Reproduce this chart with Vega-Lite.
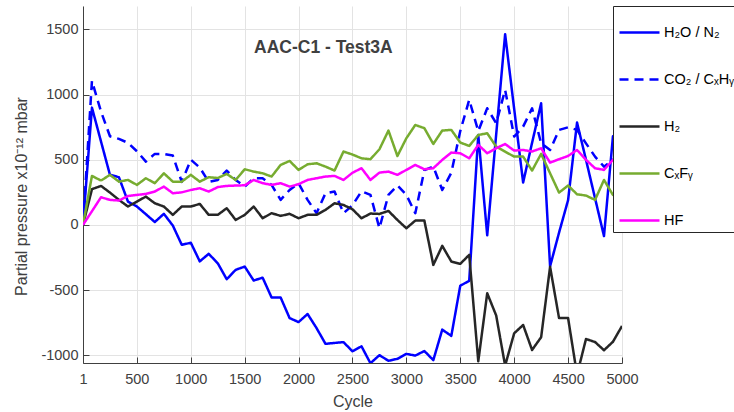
{
  "$schema": "https://vega.github.io/schema/vega-lite/v6.json",
  "autosize": "none",
  "width": 539,
  "height": 357,
  "padding": {"left": 83, "top": 6, "right": 112, "bottom": 49},
  "background": "white",
  "config": {
    "view": {"stroke": null},
    "font": "Liberation Sans",
    "axis": {
      "domainColor": "#404040",
      "tickColor": "#404040",
      "gridColor": "#e3e3e3",
      "labelColor": "#404040",
      "titleColor": "#404040",
      "labelFontSize": 14.5,
      "titleFontSize": 16,
      "titleFontWeight": "normal",
      "labelExpr": "'' + datum.value"
    }
  },
  "title": {
    "text": "AAC-C1 - Test3A",
    "anchor": "start",
    "frame": "group",
    "offset": 0,
    "dx": 171,
    "dy": 65,
    "baseline": "alphabetic",
    "fontSize": 17.5,
    "fontWeight": "bold",
    "color": "#404040"
  },
  "data": {
    "values": [
      {"cycle": 1, "H2O": 0, "CO2": 0, "H2": 0, "CxFy": 0, "HF": 0},
      {"cycle": 84, "H2O": 900, "CO2": 1105, "H2": 274, "CxFy": 376, "HF": 105},
      {"cycle": 168, "H2O": 640, "CO2": 870, "H2": 299, "CxFy": 340, "HF": 212},
      {"cycle": 251, "H2O": 384, "CO2": 680, "H2": 248, "CxFy": 384, "HF": 192},
      {"cycle": 334, "H2O": 366, "CO2": 660, "H2": 192, "CxFy": 332, "HF": 187},
      {"cycle": 418, "H2O": 179, "CO2": 630, "H2": 141, "CxFy": 345, "HF": 222},
      {"cycle": 501, "H2O": 141, "CO2": 565, "H2": 179, "CxFy": 307, "HF": 230},
      {"cycle": 584, "H2O": 82, "CO2": 486, "H2": 217, "CxFy": 358, "HF": 238},
      {"cycle": 667, "H2O": 22, "CO2": 545, "H2": 166, "CxFy": 320, "HF": 256},
      {"cycle": 751, "H2O": 85, "CO2": 545, "H2": 141, "CxFy": 396, "HF": 294},
      {"cycle": 834, "H2O": -5, "CO2": 532, "H2": 77, "CxFy": 332, "HF": 243},
      {"cycle": 917, "H2O": -153, "CO2": 330, "H2": 141, "CxFy": 332, "HF": 250},
      {"cycle": 1001, "H2O": -137, "CO2": 500, "H2": 141, "CxFy": 384, "HF": 268},
      {"cycle": 1084, "H2O": -280, "CO2": 440, "H2": 161, "CxFy": 332, "HF": 281},
      {"cycle": 1167, "H2O": -222, "CO2": 330, "H2": 77, "CxFy": 366, "HF": 256},
      {"cycle": 1251, "H2O": -295, "CO2": 345, "H2": 77, "CxFy": 360, "HF": 290},
      {"cycle": 1334, "H2O": -417, "CO2": 417, "H2": 128, "CxFy": 391, "HF": 299},
      {"cycle": 1417, "H2O": -345, "CO2": 345, "H2": 38, "CxFy": 345, "HF": 302},
      {"cycle": 1501, "H2O": -320, "CO2": 294, "H2": 77, "CxFy": 427, "HF": 304},
      {"cycle": 1584, "H2O": -427, "CO2": 358, "H2": 141, "CxFy": 409, "HF": 345},
      {"cycle": 1667, "H2O": -405, "CO2": 358, "H2": 51, "CxFy": 396, "HF": 320},
      {"cycle": 1750, "H2O": -557, "CO2": 307, "H2": 90, "CxFy": 371, "HF": 307},
      {"cycle": 1834, "H2O": -557, "CO2": 192, "H2": 69, "CxFy": 460, "HF": 320},
      {"cycle": 1917, "H2O": -715, "CO2": 268, "H2": 85, "CxFy": 491, "HF": 294},
      {"cycle": 2000, "H2O": -746, "CO2": 320, "H2": 51, "CxFy": 422, "HF": 312},
      {"cycle": 2084, "H2O": -684, "CO2": 192, "H2": 77, "CxFy": 465, "HF": 345},
      {"cycle": 2167, "H2O": -792, "CO2": 90, "H2": 77, "CxFy": 473, "HF": 358},
      {"cycle": 2250, "H2O": -913, "CO2": 243, "H2": 115, "CxFy": 447, "HF": 371},
      {"cycle": 2334, "H2O": -906, "CO2": 256, "H2": 166, "CxFy": 417, "HF": 376},
      {"cycle": 2417, "H2O": -900, "CO2": 90, "H2": 153, "CxFy": 563, "HF": 345},
      {"cycle": 2500, "H2O": -970, "CO2": 150, "H2": 120, "CxFy": 540, "HF": 400},
      {"cycle": 2584, "H2O": -932, "CO2": 258, "H2": 51, "CxFy": 511, "HF": 435},
      {"cycle": 2667, "H2O": -1062, "CO2": 230, "H2": 87, "CxFy": 504, "HF": 345},
      {"cycle": 2750, "H2O": -1000, "CO2": -25, "H2": 84, "CxFy": 580, "HF": 401},
      {"cycle": 2834, "H2O": -1043, "CO2": 230, "H2": 107, "CxFy": 724, "HF": 409},
      {"cycle": 2917, "H2O": -1028, "CO2": 303, "H2": 38, "CxFy": 529, "HF": 384},
      {"cycle": 3000, "H2O": -990, "CO2": 230, "H2": -26, "CxFy": 665, "HF": 422},
      {"cycle": 3083, "H2O": -1003, "CO2": 90, "H2": 33, "CxFy": 767, "HF": 460},
      {"cycle": 3167, "H2O": -968, "CO2": 420, "H2": 33, "CxFy": 742, "HF": 427},
      {"cycle": 3250, "H2O": -1038, "CO2": 447, "H2": -307, "CxFy": 621, "HF": 435},
      {"cycle": 3333, "H2O": -804, "CO2": 268, "H2": -161, "CxFy": 724, "HF": 499},
      {"cycle": 3417, "H2O": -852, "CO2": 400, "H2": -281, "CxFy": 729, "HF": 555},
      {"cycle": 3500, "H2O": -467, "CO2": 720, "H2": -299, "CxFy": 632, "HF": 550},
      {"cycle": 3583, "H2O": -429, "CO2": 960, "H2": -230, "CxFy": 606, "HF": 511},
      {"cycle": 3667, "H2O": 690, "CO2": 720, "H2": -1047, "CxFy": 690, "HF": 614},
      {"cycle": 3750, "H2O": -80, "CO2": 895, "H2": -525, "CxFy": 703, "HF": 550},
      {"cycle": 3833, "H2O": 693, "CO2": 780, "H2": -695, "CxFy": 601, "HF": 588},
      {"cycle": 3916, "H2O": 1463, "CO2": 1036, "H2": -1080, "CxFy": 562, "HF": 621},
      {"cycle": 4000, "H2O": 890, "CO2": 678, "H2": -832, "CxFy": 524, "HF": 570},
      {"cycle": 4083, "H2O": 325, "CO2": 754, "H2": -768, "CxFy": 524, "HF": 575},
      {"cycle": 4166, "H2O": 630, "CO2": 895, "H2": -960, "CxFy": 417, "HF": 563},
      {"cycle": 4250, "H2O": 933, "CO2": 626, "H2": -862, "CxFy": 545, "HF": 588},
      {"cycle": 4333, "H2O": -318, "CO2": 575, "H2": -322, "CxFy": 396, "HF": 478},
      {"cycle": 4416, "H2O": -60, "CO2": 729, "H2": -715, "CxFy": 248, "HF": 504},
      {"cycle": 4500, "H2O": 190, "CO2": 749, "H2": -715, "CxFy": 302, "HF": 529},
      {"cycle": 4583, "H2O": 785, "CO2": 729, "H2": -1150, "CxFy": 235, "HF": 575},
      {"cycle": 4666, "H2O": 500, "CO2": 626, "H2": -876, "CxFy": 225, "HF": 499},
      {"cycle": 4750, "H2O": 205, "CO2": 524, "H2": -899, "CxFy": 192, "HF": 435},
      {"cycle": 4833, "H2O": -86, "CO2": 447, "H2": -962, "CxFy": 345, "HF": 422},
      {"cycle": 4916, "H2O": 680, "CO2": 500, "H2": -897, "CxFy": 230, "HF": 499},
      {"cycle": 5000, "H2O": 650, "CO2": 520, "H2": -776, "CxFy": 230, "HF": 520}
    ]
  },
  "transform": [
    {"fold": ["H2O", "CO2", "H2", "CxFy", "HF"], "as": ["series", "value"]}
  ],
  "mark": {"type": "line", "clip": true, "strokeJoin": "round"},
  "encoding": {
    "x": {
      "field": "cycle",
      "type": "quantitative",
      "scale": {"domain": [1, 5000], "nice": false, "zero": false},
      "axis": {
        "values": [1, 500, 1000, 1500, 2000, 2500, 3000, 3500, 4000, 4500, 5000],
        "title": "Cycle",
        "tickSize": -6,
        "labelPadding": 15,
        "titlePadding": 8,
        "labelFlush": false
      }
    },
    "y": {
      "field": "value",
      "type": "quantitative",
      "scale": {"domain": [-1060, 1680], "nice": false, "zero": false},
      "axis": {
        "values": [-1000, -500, 0, 500, 1000, 1500],
        "title": "Partial pressure x10⁻¹²  mbar",
        "titleY": 190,
        "tickSize": -6,
        "labelPadding": 11,
        "titlePadding": 11
      }
    },
    "color": {
      "field": "series",
      "type": "nominal",
      "scale": {
        "domain": ["H2O", "CO2", "H2", "CxFy", "HF"],
        "range": ["#0000ff", "#0000ff", "#262626", "#77ac30", "#ff00ff"]
      },
      "legend": {
        "title": null,
        "orient": "none",
        "legendX": 530,
        "legendY": 0,
        "strokeColor": "#262626",
        "fillColor": "white",
        "padding": 5,
        "rowPadding": 19,
        "symbolType": "stroke",
        "symbolSize": 1600,
        "labelFontSize": 14.5,
        "labelColor": "#000000",
        "labelOffset": 3,
        "labelLimit": 300,
        "labelExpr": "{'H2O': 'H₂O / N₂', 'CO2': 'CO₂ / CₓHᵧ', 'H2': 'H₂', 'CxFy': 'CₓFᵧ', 'HF': 'HF'}[datum.label]"
      }
    },
    "strokeDash": {
      "field": "series",
      "type": "nominal",
      "scale": {
        "domain": ["H2O", "CO2", "H2", "CxFy", "HF"],
        "range": [[1, 0], [9, 6], [1, 0], [1, 0], [1, 0]]
      }
    },
    "strokeWidth": {
      "field": "series",
      "type": "nominal",
      "scale": {
        "domain": ["H2O", "CO2", "H2", "CxFy", "HF"],
        "range": [2.5, 2.5, 2.5, 4, 4]
      }
    }
  }
}
